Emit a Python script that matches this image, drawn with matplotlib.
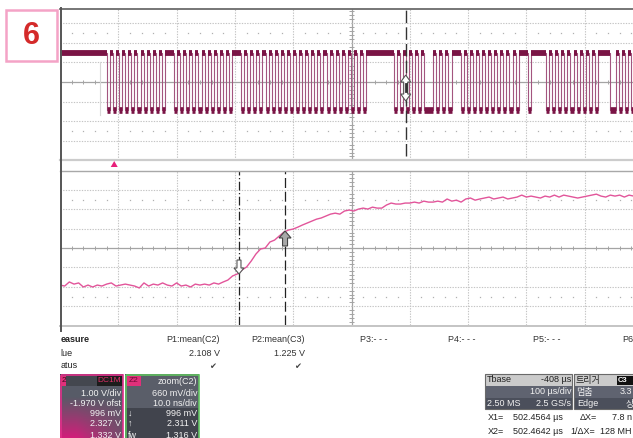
import numpy as np
import matplotlib
matplotlib.use('Agg')
import matplotlib.pyplot as plt
from matplotlib.patches import Rectangle, Polygon

plt.rcParams['font.family'] = ['Liberation Sans', 'DejaVu Sans', 'Noto Sans CJK KR']

# ---- data (x in divisions, y in divisions) ----
# top trace C2: idle high, then a burst, one char per bit slot
c2_idle_end = 0.806
c2_slot = 0.0523
c2_bits = ("0101010101" "0101010101" "1101010101" "0101010101"
           "0111010101" "0101010101" "0101010101" "0101010101"
           "0101011111" "1111010101" "0101000101" "0101110101"
           "0101010101" "0101011101" "1111010101" "0101010101"
           "0111100101" "010")
c2_high, c2_low = 1.5, -1.45

# bottom trace Z2, one sample every 0.08 div
z2_step = 0.08
z2_trace = [-1.91, -1.96, -1.75, -1.86, -1.80, -2.01, -1.91, -2.01, -1.91, -1.96,
            -1.86, -1.80, -1.96, -1.91, -1.86, -1.91, -1.96, -2.06, -1.80, -1.96,
            -1.86, -1.91, -1.80, -1.91, -1.96, -1.80, -1.96, -1.91, -2.01, -1.86,
            -1.91, -1.86, -1.91, -1.80, -1.86, -1.75, -1.65, -1.44, -1.34, -1.13,
            -0.98, -0.67, -0.31, -0.05, 0.00, 0.31, 0.41, 0.62, 0.82, 0.93,
            0.98, 1.08, 1.19, 1.29, 1.39, 1.49, 1.55, 1.65, 1.75, 1.80,
            1.75, 1.91, 1.96, 1.91, 2.01, 2.06, 2.01, 2.11, 2.06, 2.06,
            2.22, 2.32, 2.27, 2.27, 2.32, 2.32, 2.37, 2.32, 2.42, 2.37,
            2.37, 2.42, 2.37, 2.53, 2.42, 2.47, 2.37, 2.53, 2.58, 2.47,
            2.53, 2.58, 2.63, 2.53, 2.58, 2.63, 2.53, 2.58, 2.63, 2.73,
            2.63, 2.68, 2.63, 2.58, 2.68, 2.63, 2.73, 2.63, 2.73, 2.68,
            2.63, 2.58, 2.63, 2.68, 2.73, 2.78, 2.68, 2.63, 2.73, 2.68,
            2.73, 2.63, 2.73, 2.68]

cursor_x2 = 5.93
p1_x, p1_y = 3.07, -1.34
p2_x, p2_y = 3.86, 0.88
trig_x = 0.93

measure_names = ['P1:mean(C2)', 'P2:mean(C3)', 'P3:- - -', 'P4:- - -', 'P5:- - -', 'P6:-']
measure_values = ['2.108 V', '1.225 V']

W, H = 633, 438
fig = plt.figure(figsize=(W / 100, H / 100), dpi=100)
DIV = 58.3
XMAX = (W - 60) / DIV
GRID = '#c4c4c4'
AXC = '#a4a4a4'


def panel(top, bottom, ymin, ymax):
    ax = fig.add_axes([60 / W, 1 - bottom / H, (W - 60) / W, (bottom - top) / H])
    ax.set_xlim(0, XMAX)
    ax.set_ylim(ymin, ymax)
    ax.axis('off')
    for gx in range(1, 10):
        if gx == 5:
            ax.axvline(gx, color=AXC, lw=0.9, zorder=1)
        else:
            ax.axvline(gx, color=GRID, lw=0.8, ls=(0, (1.2, 1.2)), zorder=1)
    for gy in range(-3, 4):
        if gy == 0:
            ax.axhline(0, color=AXC, lw=0.9, zorder=1)
        else:
            ax.axhline(gy, color=GRID, lw=0.8, ls=(0, (1.2, 1.2)), zorder=1)
    mx = np.arange(0.2, XMAX, 0.2)
    mx = mx[np.abs(mx - np.round(mx)) > 0.05]
    ax.vlines(mx, -0.1, 0.1, color=AXC, lw=0.7, zorder=1)
    for ry in (2.5, -2.5):
        ax.plot(mx, np.full_like(mx, ry), ls='none', marker='s', ms=0.9, mew=0, color='#b0b0b0')
    my = np.arange(-3.8, 3.9, 0.2)
    my = my[np.abs(my - np.round(my)) > 0.05]
    ax.hlines(my, 5 - 0.035, 5 + 0.035, color=AXC, lw=0.7, zorder=1)
    return ax


def arrow(ax, xc, yc, pts, sx, sy, **kw):
    P = [(xc + dx / sx, yc - dy / sy) for dx, dy in pts]
    ax.add_patch(Polygon(P, closed=True, zorder=6, **kw))


# ---- top panel ----
ax1 = panel(9, 160.4, -4, 3.72)
vals = [1] + [int(b) for b in c2_bits]
starts = [0.0] + [c2_idle_end + i * c2_slot for i in range(len(c2_bits))]
runs = []
for s, v in zip(starts, vals):
    if runs and runs[-1][2] == v:
        continue
    runs.append([s, None, v])
for i in range(len(runs) - 1):
    runs[i][1] = runs[i + 1][0]
runs[-1][1] = XMAX
xs, ys = [], []
for x0, x1, v in runs:
    lv = c2_high if v else c2_low
    xs += [x0, x1]
    ys += [lv, lv]
ax1.plot(xs, ys, color='#a3557f', lw=0.8, zorder=3)
for x0, x1, v in runs:
    lv = c2_high if v else c2_low
    ax1.plot([x0, x1], [lv, lv], color='#7a1445', lw=4.2 if v else 4.8,
             solid_capstyle='butt', zorder=4)
ax1.plot([0.69, 0.69], [1.0, -1.7], color='#d8d8d8', lw=0.8, zorder=2)
ax1.axvline(cursor_x2, ymin=0.03, color='#333333', lw=1.0, ls=(0, (9, 3)), zorder=5)
arrow(ax1, cursor_x2, -0.31,
      [(0, -13), (5, -6), (2, -6), (2, 6), (5, 6), (0, 13), (-5, 6), (-2, 6), (-2, -6), (-5, -6)],
      DIV, 19.6, facecolor='white', edgecolor='#555555', lw=0.8)
ax1.plot([cursor_x2, cursor_x2], [-0.1, -0.45], color='#333333', lw=2, zorder=7)

# ---- bottom panel ----
ax2 = panel(170.5, 325, -3.97, 4.0)
ax2.plot(np.arange(len(z2_trace)) * z2_step, z2_trace, color='#e2559a', lw=1.0, zorder=3)
ax2.axvline(p1_x, color='#222222', lw=0.9, ls=(0, (7, 2, 1, 2)), zorder=5)
ax2.axvline(p2_x, color='#222222', lw=0.9, ls=(0, (8, 3)), zorder=5)
arrow(ax2, p1_x, p1_y,
      [(0, 0), (5, -6), (2, -6), (2, -14), (-2, -14), (-2, -6), (-5, -6)],
      DIV, 19.4, facecolor='white', edgecolor='#555555', lw=0.8)
arrow(ax2, p2_x, p2_y,
      [(0, 0), (6, 7), (2.5, 7), (2.5, 15), (-2.5, 15), (-2.5, 7), (-6, 7)],
      DIV, 19.4, facecolor='#a8a8a8', edgecolor='#444444', lw=0.8)

# ---- overlay in pixel coordinates ----
ov = fig.add_axes([0, 0, 1, 1], zorder=10)
ov.axis('off')
ov.set_xlim(0, W)
ov.set_ylim(H, 0)

ov.plot([60, W], [8.5, 8.5], color='#6b6b6b', lw=1.3)
ov.plot([60, W], [160, 160], color='#cccccc', lw=1.6)
ov.plot([60, W], [170.5, 170.5], color='#a8a8a8', lw=1.0)
ov.plot([60, W], [325.5, 325.5], color='#c4c4c4', lw=1.4)
ov.plot([60.5, 60.5], [8, 331], color='#555555', lw=1.4)
tx = 60 + trig_x * DIV
ov.add_patch(Polygon([(tx - 3.5, 167), (tx + 3.5, 167), (tx, 161)], closed=True,
                     facecolor='#e8207a', edgecolor='none'))

# figure number box
ov.add_patch(Rectangle((5.5, 9.5), 51, 51, facecolor='white', edgecolor='#f4a3c6', lw=1.8))
ov.text(31, 36, '6', color='#d42a2a', fontsize=22, fontweight='bold', ha='center', va='center')

# measure table
fs = 6.5
ov.text(60.5, 340, 'easure', fontsize=fs, fontweight='bold', color='#222222', va='center')
ov.text(60.5, 353, 'lue', fontsize=fs, color='#222222', va='center')
ov.text(60.5, 366, 'atus', fontsize=fs, color='#222222', va='center')
for name, xr in zip(measure_names[:2], [220, 305]):
    ov.text(xr, 340, name, fontsize=fs, color='#333333', ha='right', va='center')
for val, xr in zip(measure_values, [220, 305]):
    ov.text(xr, 353, val, fontsize=fs, color='#333333', ha='right', va='center')
    ov.text(xr - 7, 366.5, '\u2714', fontsize=6, color='#444444', ha='center', va='center',
            family=['DejaVu Sans'])
for name, xl in zip(measure_names[2:], [360, 448, 533, 622]):
    ov.text(xl, 340, name, fontsize=fs, color='#333333', ha='left', va='center')

# C2 channel box
gy, gx = np.mgrid[0:1:64j, 0:1:63j]
w = np.clip((gy - 0.35) / 0.65, 0, 1) * np.clip(1.25 - gx, 0, 1)
base = np.array([0x57, 0x5b, 0x67]) / 255
mag = np.array([0xd2, 0x1e, 0x7a]) / 255
img = base * (1 - w[..., None]) + mag * w[..., None]
ov.imshow(img, extent=(60, 123, 438, 374), aspect='auto', zorder=1)
ov.add_patch(Rectangle((60, 374), 63, 12, facecolor='#44474f', edgecolor='none', zorder=2))
ov.add_patch(Rectangle((60.5, 374.5), 62.5, 70, facecolor='none', edgecolor='#e0308a', lw=1.2, zorder=3))
ov.add_patch(Rectangle((61, 376), 5, 10, facecolor='#e0307a', edgecolor='none', zorder=3))
ov.text(63.5, 381, '2', fontsize=6, color='#3a0a20', ha='center', va='center', zorder=4)
ov.add_patch(Rectangle((97, 376), 25, 10, facecolor='#1c1c1c', edgecolor='none', zorder=3))
ov.text(109.5, 381, 'DC1M', fontsize=6, color='#e0306a', ha='center', va='center', zorder=4)
for txt, yy in zip(['1.00 V/div', '-1.970 V ofst', '996 mV', '2.327 V', '1.332 V'],
                   [393, 403, 413, 423, 435]):
    ov.text(121, yy, txt, fontsize=fs, color='#f2f2f2', ha='right', va='center', zorder=4)

# Z2 zoom box
ov.add_patch(Rectangle((125, 374), 74, 34, facecolor='#5a5e69', edgecolor='none', zorder=1))
ov.add_patch(Rectangle((125, 408), 74, 32, facecolor='#41444d', edgecolor='none', zorder=1))
ov.add_patch(Rectangle((125.5, 374.5), 73.5, 70, facecolor='none', edgecolor='#5fc05f', lw=1.2, zorder=3))
ov.add_patch(Rectangle((127, 376), 14, 10, facecolor='#e0307a', edgecolor='none', zorder=3))
ov.text(134, 381, 'Z2', fontsize=6, color='#6a0a34', ha='center', va='center', zorder=4)
ov.text(197, 381, 'zoom(C2)', fontsize=fs, color='#f2f2f2', ha='right', va='center', zorder=4)
for txt, yy in zip(['660 mV/div', '10.0 ns/div', '996 mV', '2.311 V', '1.316 V'],
                   [393, 403, 413, 423, 435]):
    ov.text(197, yy, txt, fontsize=fs, color='#f2f2f2', ha='right', va='center', zorder=4)
for txt, yy in zip(['\u2193', '\u2191', 'fw'], [413, 423, 435]):
    ov.text(128, yy, txt, fontsize=fs, color='#f2f2f2', ha='left', va='center', zorder=4)

# timebase and trigger boxes
for x0, wd in [(485, 87), (574, 70)]:
    ov.add_patch(Rectangle((x0, 374), wd, 12, facecolor='#cbcbcb', edgecolor='none', zorder=1))
    ov.add_patch(Rectangle((x0, 386), wd, 12, facecolor='#5f6370', edgecolor='none', zorder=1))
    ov.add_patch(Rectangle((x0, 398), wd, 11, facecolor='#4b4f5b', edgecolor='none', zorder=1))
    ov.add_patch(Rectangle((x0, 374), wd, 35, facecolor='none', edgecolor='#6a6a6a', lw=0.8, zorder=2))
ov.text(487, 380, 'Tbase', fontsize=fs, color='#222222', va='center')
ov.text(571, 380, '-408 \u00b5s', fontsize=fs, color='#222222', ha='right', va='center')
ov.text(571, 392, '100 \u00b5s/div', fontsize=fs, color='#f2f2f2', ha='right', va='center')
ov.text(487, 404, '2.50 MS', fontsize=fs, color='#f2f2f2', va='center')
ov.text(571, 404, '2.5 GS/s', fontsize=fs, color='#f2f2f2', ha='right', va='center')
kr = ['Noto Sans CJK KR', 'DejaVu Sans']
ov.text(576, 380, '트리거', fontsize=fs, color='#222222', va='center', family=kr)
ov.add_patch(Rectangle((617, 375.5), 16, 9.5, facecolor='#111111', edgecolor='none', zorder=3))
ov.text(618, 380.5, 'C3', fontsize=5.5, color='white', fontweight='bold', va='center', zorder=4)
ov.text(576, 392, '멈춤', fontsize=fs, color='#f2f2f2', va='center', family=kr)
ov.text(620, 392, '3.3', fontsize=fs, color='#f2f2f2', va='center')
ov.text(577, 404, 'Edge', fontsize=fs, color='#f2f2f2', va='center')
ov.text(626, 404, '상', fontsize=fs, color='#f2f2f2', va='center', family=kr)

ov.text(488, 417, 'X1=', fontsize=fs, color='#222222', va='center')
ov.text(513, 417, '502.4564 \u00b5s', fontsize=fs, color='#222222', va='center')
ov.text(580, 417, '\u0394X=', fontsize=fs, color='#222222', va='center')
ov.text(612, 417, '7.8 n', fontsize=fs, color='#222222', va='center')
ov.text(488, 431, 'X2=', fontsize=fs, color='#222222', va='center')
ov.text(513, 431, '502.4642 \u00b5s', fontsize=fs, color='#222222', va='center')
ov.text(570, 431, '1/\u0394X=', fontsize=fs, color='#222222', va='center')
ov.text(600, 431, '128 MH', fontsize=fs, color='#222222', va='center')

ov.set_xlim(0, W)
ov.set_ylim(H, 0)
fig.savefig('out.png', dpi=100)
